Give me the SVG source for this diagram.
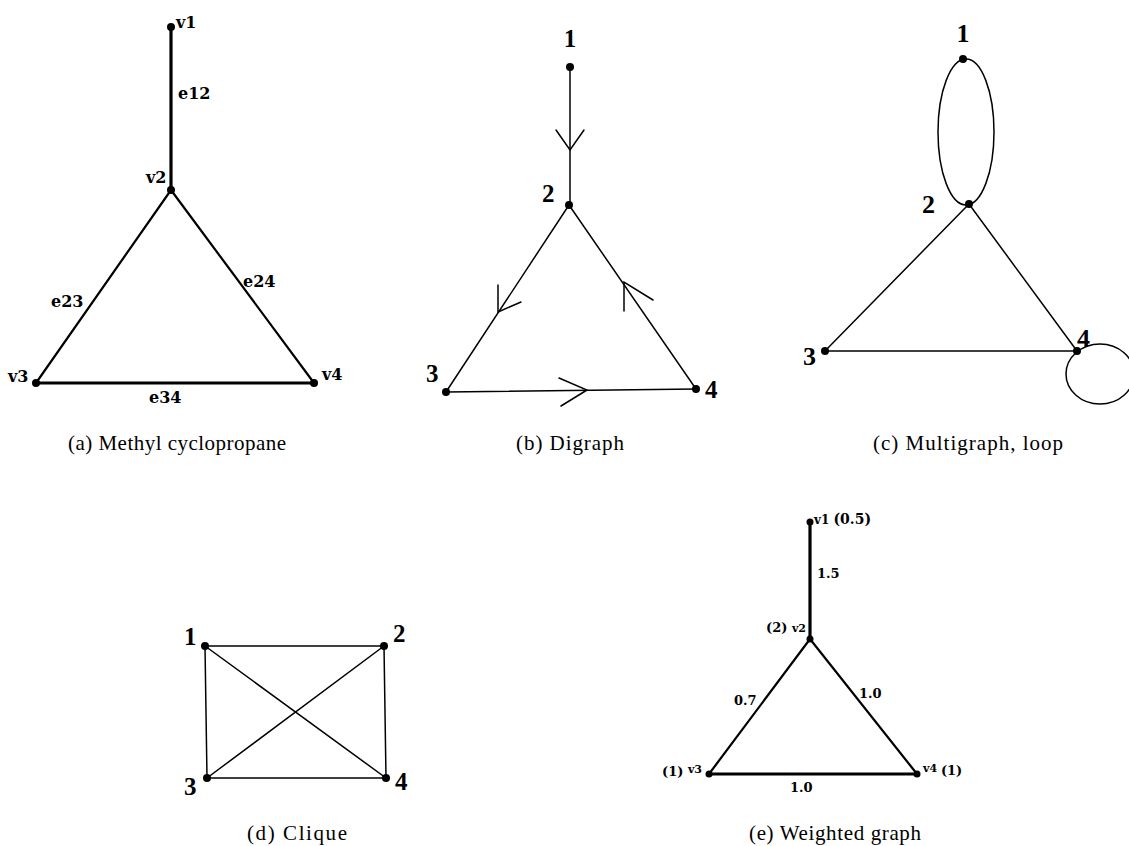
<svg xmlns="http://www.w3.org/2000/svg" width="1129" height="846" viewBox="0 0 1129 846">
<style>
.bg{fill:#fff}
.e{stroke:#000;fill:none;stroke-linecap:round}
.thick{stroke-width:3.2}
.med{stroke-width:2.2}
.thin{stroke-width:1.5}
.dot{fill:#000}
.lab{font-family:"DejaVu Serif",serif;font-weight:bold;fill:#000}
.num{font-family:"Liberation Serif","Times New Roman",serif;font-weight:bold;fill:#000}
.cap{font-family:"Liberation Serif","Times New Roman",serif;font-size:21px;fill:#000;text-anchor:middle}
</style>
<rect class="bg" x="0" y="0" width="1129" height="846"/>

<!-- connectors -->
<g id="connectors">
  <!-- (a) -->
  <line class="e thick" x1="171" y1="27" x2="171" y2="190"/>
  <line class="e med" x1="171" y1="190" x2="36" y2="383"/>
  <line class="e med" x1="171" y1="190" x2="314" y2="383"/>
  <line class="e thick" x1="36" y1="383" x2="314" y2="383"/>
  <!-- (b) -->
  <line class="e thin" x1="570" y1="67" x2="570" y2="205"/>
  <line class="e thin" x1="569" y1="205" x2="446" y2="392"/>
  <line class="e thin" x1="696" y1="389" x2="569" y2="205"/>
  <line class="e thin" x1="446" y1="392" x2="696" y2="389"/>
  <polyline class="e thin" points="556,130 570,150 584,130"/>
  <polyline class="e thin" points="498,285 498,312 521,302"/>
  <polyline class="e thin" points="624,311 624,282 653,300"/>
  <polyline class="e thin" points="559,378 587,390 561,406"/>
  <!-- (c) -->
  <ellipse class="e thin" cx="966" cy="132" rx="28" ry="73"/>
  <line class="e thin" x1="969" y1="204" x2="825" y2="351"/>
  <line class="e thin" x1="969" y1="204" x2="1077" y2="351"/>
  <line class="e thin" x1="825" y1="351" x2="1077" y2="351"/>
  <ellipse class="e thin" cx="1100" cy="374" rx="34" ry="30"/>
  <!-- (d) -->
  <line class="e thin" x1="205" y1="646" x2="384" y2="646"/>
  <line class="e thin" x1="205" y1="646" x2="207" y2="778"/>
  <line class="e thin" x1="384" y1="646" x2="386" y2="778"/>
  <line class="e thin" x1="207" y1="778" x2="386" y2="778"/>
  <line class="e thin" x1="205" y1="646" x2="386" y2="778"/>
  <line class="e thin" x1="384" y1="646" x2="207" y2="778"/>
  <!-- (e) -->
  <line class="e thick" x1="810" y1="522" x2="810" y2="639"/>
  <line class="e med" x1="810" y1="639" x2="709" y2="774"/>
  <line class="e med" x1="810" y1="639" x2="917" y2="774"/>
  <line class="e thick" x1="709" y1="774" x2="917" y2="774"/>
</g>

<!-- (a) Methyl cyclopropane -->
<g id="a-v1"><circle class="dot" cx="171" cy="27" r="4"/><text class="lab" x="176" y="28" font-size="16">v1</text></g>
<g id="a-v2"><circle class="dot" cx="171" cy="190" r="4"/><text class="lab" x="146" y="183" font-size="16">v2</text></g>
<g id="a-v3"><circle class="dot" cx="36" cy="383" r="4"/><text class="lab" x="8" y="382" font-size="16">v3</text></g>
<g id="a-v4"><circle class="dot" cx="314" cy="383" r="4"/><text class="lab" x="322" y="380" font-size="16">v4</text></g>
<g id="a-edgelabels">
  <text class="lab" x="178" y="99" font-size="16">e12</text>
  <text class="lab" x="51" y="307" font-size="16">e23</text>
  <text class="lab" x="243" y="287" font-size="16">e24</text>
  <text class="lab" x="149" y="403" font-size="16">e34</text>
</g>
<text class="cap" x="177" y="450" textLength="218" lengthAdjust="spacing">(a) Methyl cyclopropane</text>

<!-- (b) Digraph -->
<g id="b-1"><circle class="dot" cx="570" cy="67" r="4"/><text class="num" x="570" y="47" font-size="25" text-anchor="middle">1</text></g>
<g id="b-2"><circle class="dot" cx="569" cy="205" r="4"/><text class="num" x="542" y="202" font-size="25">2</text></g>
<g id="b-3"><circle class="dot" cx="446" cy="392" r="4"/><text class="num" x="426" y="382" font-size="25">3</text></g>
<g id="b-4"><circle class="dot" cx="696" cy="389" r="4"/><text class="num" x="705" y="398" font-size="25">4</text></g>
<text class="cap" x="570" y="450" textLength="108" lengthAdjust="spacing">(b) Digraph</text>

<!-- (c) Multigraph, loop -->
<g id="c-1"><circle class="dot" cx="963" cy="59" r="4"/><text class="num" x="963" y="42" font-size="26" text-anchor="middle">1</text></g>
<g id="c-2"><circle class="dot" cx="969" cy="204" r="4"/><text class="num" x="922" y="213" font-size="26">2</text></g>
<g id="c-3"><circle class="dot" cx="825" cy="351" r="4"/><text class="num" x="803" y="365" font-size="26">3</text></g>
<g id="c-4"><circle class="dot" cx="1077" cy="351" r="4"/><text class="num" x="1077" y="347" font-size="26">4</text></g>
<text class="cap" x="968" y="450" textLength="190" lengthAdjust="spacing">(c) Multigraph, loop</text>

<!-- (d) Clique -->
<g id="d-1"><circle class="dot" cx="205" cy="646" r="4"/><text class="num" x="184" y="645" font-size="25">1</text></g>
<g id="d-2"><circle class="dot" cx="384" cy="646" r="4"/><text class="num" x="393" y="642" font-size="25">2</text></g>
<g id="d-3"><circle class="dot" cx="207" cy="778" r="4"/><text class="num" x="184" y="795" font-size="25">3</text></g>
<g id="d-4"><circle class="dot" cx="386" cy="778" r="4"/><text class="num" x="395" y="790" font-size="25">4</text></g>
<text class="cap" x="297" y="840" textLength="100" lengthAdjust="spacing">(d) Clique</text>

<!-- (e) Weighted graph -->
<g id="e-v1"><circle class="dot" cx="810" cy="522" r="3.5"/><text class="lab" x="814" y="524"><tspan font-size="12">v1 </tspan><tspan font-size="14">(0.5)</tspan></text></g>
<g id="e-v2"><circle class="dot" cx="810" cy="639" r="3.5"/><text class="lab" x="766" y="632"><tspan font-size="13">(2) </tspan><tspan font-size="11">v2</tspan></text></g>
<g id="e-v3"><circle class="dot" cx="709" cy="774" r="3.5"/><text class="lab" x="662" y="776"><tspan font-size="13">(1) </tspan><tspan font-size="11" dy="-3">v3</tspan></text></g>
<g id="e-v4"><circle class="dot" cx="917" cy="774" r="3.5"/><text class="lab" x="923" y="772"><tspan font-size="11">v4 </tspan><tspan font-size="13" dy="3">(1)</tspan></text></g>
<g id="e-edgelabels">
  <text class="lab" x="817" y="578" font-size="13">1.5</text>
  <text class="lab" x="734" y="705" font-size="13">0.7</text>
  <text class="lab" x="859" y="698" font-size="13">1.0</text>
  <text class="lab" x="790" y="792" font-size="13">1.0</text>
</g>
<text class="cap" x="835" y="840" textLength="172" lengthAdjust="spacing">(e) Weighted graph</text>
</svg>
